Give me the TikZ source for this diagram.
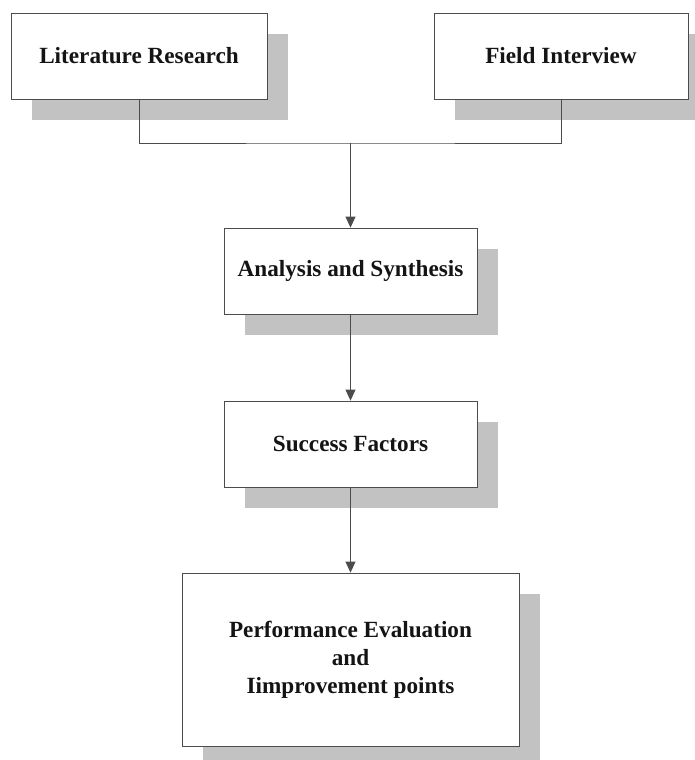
\documentclass[tikz,border=0pt]{standalone}
\usepackage{fontspec}
\setmainfont{Liberation Serif}
\usetikzlibrary{shadows, arrows.meta}
\tikzstyle{stage} = [
    rectangle,
    minimum width=253pt,
    minimum height=86pt,
    draw=black!70,
    line width=0.8pt,
    fill=white,
    text=black!92,
    font=\bfseries\fontsize{23.2}{28}\selectfont,
    drop shadow={shadow xshift=21pt, shadow yshift=-21pt, opacity=1, fill=black!24}
]
\tikzstyle{link} = [draw=black!70, line width=0.8pt]
\tikzstyle{arrow} = [link, -{Triangle[length=11pt,width=10pt]}]
\begin{document}
\begin{tikzpicture}[node distance=173pt]
\useasboundingbox (0,0) rectangle (695pt,-760pt);

\node (lit) [stage, minimum width=256pt] at (139pt,-56pt)
{Literature Research};

\node (field) [stage, minimum width=254pt] at (561pt,-56pt)
{Field Interview};

\node (analysis) [stage] at (350.5pt,-271pt)
{Analysis and Synthesis};

\node (success) [stage, below of=analysis]
{Success Factors};

\node (perf) [stage, node distance=215.5pt, below of=success,
    minimum width=337pt, minimum height=173pt, align=center]
{Performance Evaluation\\and\\Iimprovement points};

\coordinate (join) at (350.5pt,-143pt);

\draw [link] (lit.south) |- (join) -| (field.south);
\draw [arrow] (join) -- (analysis.north);
\draw [arrow] (analysis) -- (success);
\draw [arrow] (success) -- (perf);

\end{tikzpicture}
\end{document}
